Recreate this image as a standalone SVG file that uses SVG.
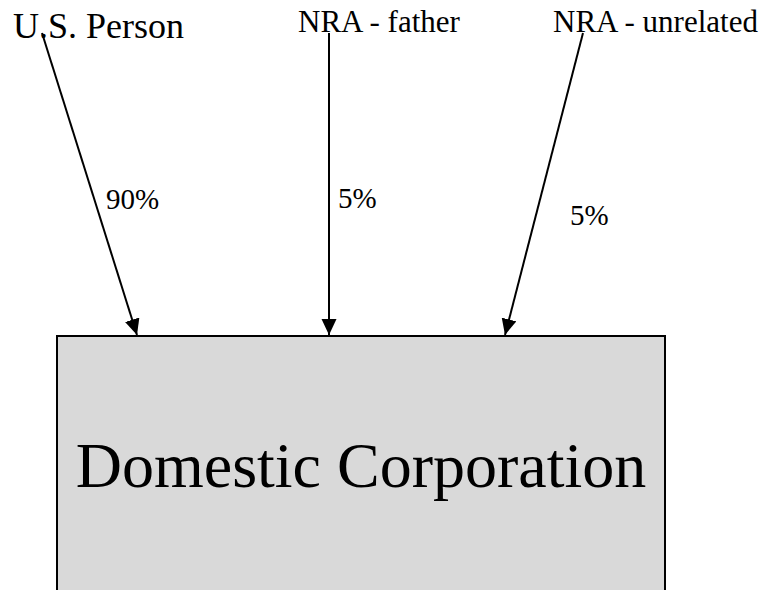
<svg xmlns="http://www.w3.org/2000/svg" width="769" height="590" viewBox="0 0 769 590" font-family="'Liberation Serif', 'Times New Roman', serif">
<style>
.t{font-family:"Liberation Serif","Times New Roman",serif;fill:#000}
.big{font-size:36px}
.lbl{font-size:31px}
.pct{font-size:29px}
.title{font-size:64px}
.edge{stroke:#000;stroke-width:2;fill:none}
</style>
<defs>
<marker id="ah" markerUnits="userSpaceOnUse" markerWidth="16" markerHeight="16" refX="16" refY="7.5" orient="auto">
<path d="M0,0 L16,7.5 L0,15 z" fill="#000"/>
</marker>
</defs>
<rect width="769" height="590" fill="#fff"/>
<g id="domestic-corporation">
<rect x="57" y="336" width="608" height="300" fill="#d9d9d9" stroke="#000" stroke-width="2"/>
<text class="t title" x="361" y="487" text-anchor="middle">Domestic Corporation</text>
</g>
<g id="us-person"><text class="t big" x="13" y="38">U.S. Person</text></g>
<g id="nra-father"><text class="t lbl" x="298" y="32">NRA - father</text></g>
<g id="nra-unrelated"><text class="t lbl" x="553" y="32">NRA - unrelated</text></g>
<g id="connectors">
<path class="edge" d="M42,33 L137,335" marker-end="url(#ah)"/>
<path class="edge" d="M329,33 L329,335" marker-end="url(#ah)"/>
<path class="edge" d="M583,33 L505,335" marker-end="url(#ah)"/>
<text class="t pct" x="106" y="209">90%</text>
<text class="t pct" x="338" y="208">5%</text>
<text class="t pct" x="570" y="225">5%</text>
</g>
</svg>
